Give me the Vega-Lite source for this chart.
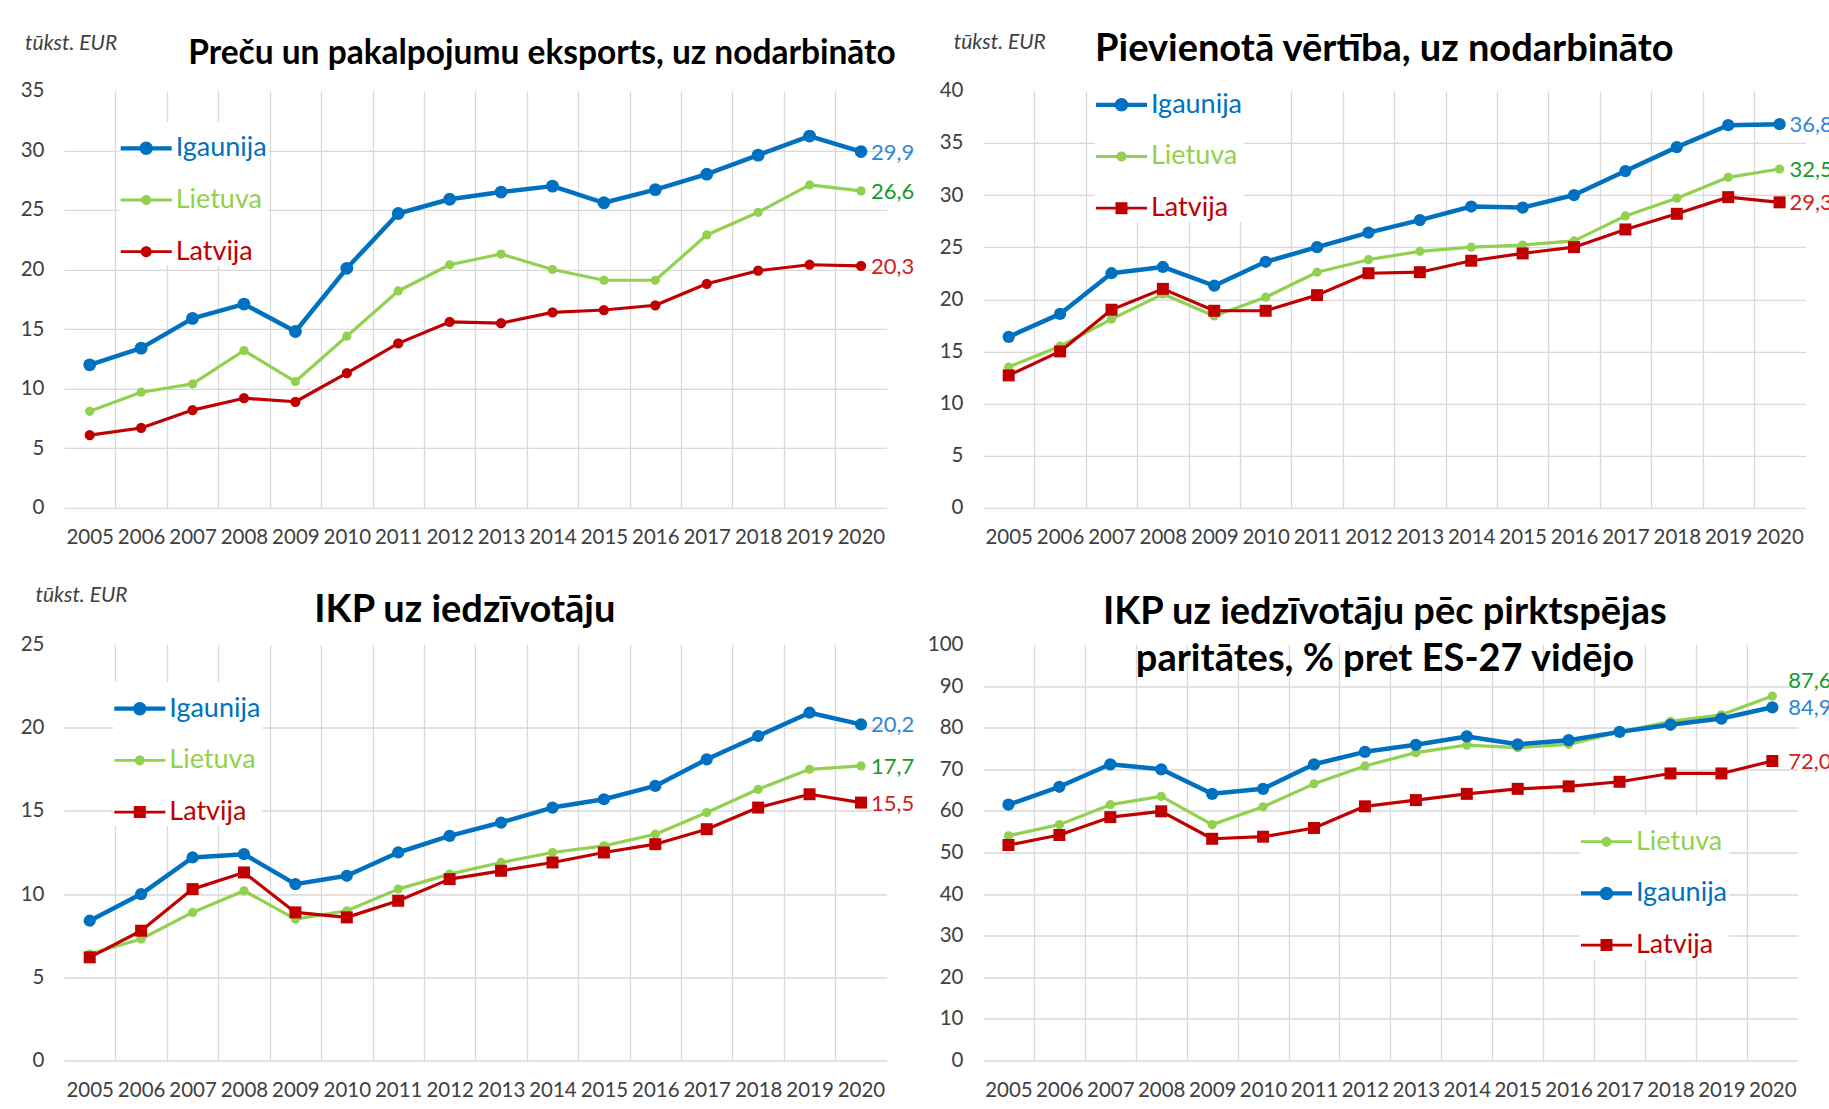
{
"$schema": "https://vega.github.io/schema/vega-lite/v6.json",
"background": "white",
"autosize": {"type": "none"},
"padding": {"left": 64, "top": 90.8, "right": 1765, "bottom": 1018},
"bounds": "flush",
"columns": 2,
"spacing": {"row": 136.7, "column": 96},
"resolve": {
 "scale": {"color": "independent", "fill": "independent"},
 "legend": {"color": "independent", "fill": "independent"}
},
"config": {
 "font": "Lato",
 "view": {"stroke": null},
 "axis": {"labelFont": "Lato", "labelFontSize": 20.5, "labelColor": "#404040", "gridColor": "#d9d9d9", "gridWidth": 1.3, "domain": false, "ticks": false},
 "axisX": {"grid": true, "tickBand": "extent", "labelAngle": 0, "labelAlign": "center", "labelPadding": 20, "labelOverlap": false, "labelBound": false, "labelFlush": false, "title": null,
           "gridColor": {"condition": {"test": "datum.extra || datum.value === 2020", "value": "transparent"}, "value": "#d9d9d9"}},
 "title": {"font": "Lato", "fontSize": 38, "fontWeight": "bold", "color": "#000000", "anchor": "middle", "frame": "group", "baseline": "alphabetic"},
 "legend": {"orient": "none", "title": null, "fillColor": "white", "padding": 1, "symbolSize": 2601, "symbolStrokeWidth": 0, "labelFont": "Lato", "labelFontSize": 27, "labelOffset": 4, "rowPadding": 12.7, "labelLimit": 400, "labelBaseline": "middle"},
 "line": {"strokeJoin": "round", "strokeCap": "round"},
 "point": {"filled": true, "opacity": 1},
 "text": {"font": "Lato", "fontSize": 22, "align": "left", "baseline": "middle"},
 "locale": {"number": {"decimal": ",", "thousands": " ", "grouping": [3], "currency": ["", " €"]}}
},
"datasets": {
"p1": [
{"year":2005,"s":"Igaunija","v":12.0},{"year":2006,"s":"Igaunija","v":13.4},{"year":2007,"s":"Igaunija","v":15.9},{"year":2008,"s":"Igaunija","v":17.1},{"year":2009,"s":"Igaunija","v":14.8},{"year":2010,"s":"Igaunija","v":20.1},{"year":2011,"s":"Igaunija","v":24.7},{"year":2012,"s":"Igaunija","v":25.9},{"year":2013,"s":"Igaunija","v":26.5},{"year":2014,"s":"Igaunija","v":27.0},{"year":2015,"s":"Igaunija","v":25.6},{"year":2016,"s":"Igaunija","v":26.7},{"year":2017,"s":"Igaunija","v":28.0},{"year":2018,"s":"Igaunija","v":29.6},{"year":2019,"s":"Igaunija","v":31.2},{"year":2020,"s":"Igaunija","v":29.9},
{"year":2005,"s":"Lietuva","v":8.1},{"year":2006,"s":"Lietuva","v":9.7},{"year":2007,"s":"Lietuva","v":10.4},{"year":2008,"s":"Lietuva","v":13.2},{"year":2009,"s":"Lietuva","v":10.6},{"year":2010,"s":"Lietuva","v":14.4},{"year":2011,"s":"Lietuva","v":18.2},{"year":2012,"s":"Lietuva","v":20.4},{"year":2013,"s":"Lietuva","v":21.3},{"year":2014,"s":"Lietuva","v":20.0},{"year":2015,"s":"Lietuva","v":19.1},{"year":2016,"s":"Lietuva","v":19.1},{"year":2017,"s":"Lietuva","v":22.9},{"year":2018,"s":"Lietuva","v":24.8},{"year":2019,"s":"Lietuva","v":27.1},{"year":2020,"s":"Lietuva","v":26.6},
{"year":2005,"s":"Latvija","v":6.1},{"year":2006,"s":"Latvija","v":6.7},{"year":2007,"s":"Latvija","v":8.2},{"year":2008,"s":"Latvija","v":9.2},{"year":2009,"s":"Latvija","v":8.9},{"year":2010,"s":"Latvija","v":11.3},{"year":2011,"s":"Latvija","v":13.8},{"year":2012,"s":"Latvija","v":15.6},{"year":2013,"s":"Latvija","v":15.5},{"year":2014,"s":"Latvija","v":16.4},{"year":2015,"s":"Latvija","v":16.6},{"year":2016,"s":"Latvija","v":17.0},{"year":2017,"s":"Latvija","v":18.8},{"year":2018,"s":"Latvija","v":19.9},{"year":2019,"s":"Latvija","v":20.4},{"year":2020,"s":"Latvija","v":20.3}
],
"p2": [
{"year":2005,"s":"Igaunija","v":16.4},{"year":2006,"s":"Igaunija","v":18.6},{"year":2007,"s":"Igaunija","v":22.5},{"year":2008,"s":"Igaunija","v":23.1},{"year":2009,"s":"Igaunija","v":21.3},{"year":2010,"s":"Igaunija","v":23.6},{"year":2011,"s":"Igaunija","v":25.0},{"year":2012,"s":"Igaunija","v":26.4},{"year":2013,"s":"Igaunija","v":27.6},{"year":2014,"s":"Igaunija","v":28.9},{"year":2015,"s":"Igaunija","v":28.8},{"year":2016,"s":"Igaunija","v":30.0},{"year":2017,"s":"Igaunija","v":32.3},{"year":2018,"s":"Igaunija","v":34.6},{"year":2019,"s":"Igaunija","v":36.7},{"year":2020,"s":"Igaunija","v":36.8},
{"year":2005,"s":"Lietuva","v":13.5},{"year":2006,"s":"Lietuva","v":15.5},{"year":2007,"s":"Lietuva","v":18.1},{"year":2008,"s":"Lietuva","v":20.5},{"year":2009,"s":"Lietuva","v":18.4},{"year":2010,"s":"Lietuva","v":20.2},{"year":2011,"s":"Lietuva","v":22.6},{"year":2012,"s":"Lietuva","v":23.8},{"year":2013,"s":"Lietuva","v":24.6},{"year":2014,"s":"Lietuva","v":25.0},{"year":2015,"s":"Lietuva","v":25.2},{"year":2016,"s":"Lietuva","v":25.6},{"year":2017,"s":"Lietuva","v":28.0},{"year":2018,"s":"Lietuva","v":29.7},{"year":2019,"s":"Lietuva","v":31.7},{"year":2020,"s":"Lietuva","v":32.5},
{"year":2005,"s":"Latvija","v":12.7},{"year":2006,"s":"Latvija","v":15.0},{"year":2007,"s":"Latvija","v":19.0},{"year":2008,"s":"Latvija","v":21.0},{"year":2009,"s":"Latvija","v":18.9},{"year":2010,"s":"Latvija","v":18.9},{"year":2011,"s":"Latvija","v":20.4},{"year":2012,"s":"Latvija","v":22.5},{"year":2013,"s":"Latvija","v":22.6},{"year":2014,"s":"Latvija","v":23.7},{"year":2015,"s":"Latvija","v":24.4},{"year":2016,"s":"Latvija","v":25.0},{"year":2017,"s":"Latvija","v":26.7},{"year":2018,"s":"Latvija","v":28.2},{"year":2019,"s":"Latvija","v":29.8},{"year":2020,"s":"Latvija","v":29.3}
],
"p3": [
{"year":2005,"s":"Igaunija","v":8.4},{"year":2006,"s":"Igaunija","v":10.0},{"year":2007,"s":"Igaunija","v":12.2},{"year":2008,"s":"Igaunija","v":12.4},{"year":2009,"s":"Igaunija","v":10.6},{"year":2010,"s":"Igaunija","v":11.1},{"year":2011,"s":"Igaunija","v":12.5},{"year":2012,"s":"Igaunija","v":13.5},{"year":2013,"s":"Igaunija","v":14.3},{"year":2014,"s":"Igaunija","v":15.2},{"year":2015,"s":"Igaunija","v":15.7},{"year":2016,"s":"Igaunija","v":16.5},{"year":2017,"s":"Igaunija","v":18.1},{"year":2018,"s":"Igaunija","v":19.5},{"year":2019,"s":"Igaunija","v":20.9},{"year":2020,"s":"Igaunija","v":20.2},
{"year":2005,"s":"Lietuva","v":6.4},{"year":2006,"s":"Lietuva","v":7.3},{"year":2007,"s":"Lietuva","v":8.9},{"year":2008,"s":"Lietuva","v":10.2},{"year":2009,"s":"Lietuva","v":8.5},{"year":2010,"s":"Lietuva","v":9.0},{"year":2011,"s":"Lietuva","v":10.3},{"year":2012,"s":"Lietuva","v":11.2},{"year":2013,"s":"Lietuva","v":11.9},{"year":2014,"s":"Lietuva","v":12.5},{"year":2015,"s":"Lietuva","v":12.9},{"year":2016,"s":"Lietuva","v":13.6},{"year":2017,"s":"Lietuva","v":14.9},{"year":2018,"s":"Lietuva","v":16.3},{"year":2019,"s":"Lietuva","v":17.5},{"year":2020,"s":"Lietuva","v":17.7},
{"year":2005,"s":"Latvija","v":6.2},{"year":2006,"s":"Latvija","v":7.8},{"year":2007,"s":"Latvija","v":10.3},{"year":2008,"s":"Latvija","v":11.3},{"year":2009,"s":"Latvija","v":8.9},{"year":2010,"s":"Latvija","v":8.6},{"year":2011,"s":"Latvija","v":9.6},{"year":2012,"s":"Latvija","v":10.9},{"year":2013,"s":"Latvija","v":11.4},{"year":2014,"s":"Latvija","v":11.9},{"year":2015,"s":"Latvija","v":12.5},{"year":2016,"s":"Latvija","v":13.0},{"year":2017,"s":"Latvija","v":13.9},{"year":2018,"s":"Latvija","v":15.2},{"year":2019,"s":"Latvija","v":16.0},{"year":2020,"s":"Latvija","v":15.5}
],
"p4": [
{"year":2005,"s":"Lietuva","v":54.0},{"year":2006,"s":"Lietuva","v":56.7},{"year":2007,"s":"Lietuva","v":61.5},{"year":2008,"s":"Lietuva","v":63.5},{"year":2009,"s":"Lietuva","v":56.7},{"year":2010,"s":"Lietuva","v":61.0},{"year":2011,"s":"Lietuva","v":66.5},{"year":2012,"s":"Lietuva","v":70.8},{"year":2013,"s":"Lietuva","v":74.0},{"year":2014,"s":"Lietuva","v":75.8},{"year":2015,"s":"Lietuva","v":75.2},{"year":2016,"s":"Lietuva","v":76.0},{"year":2017,"s":"Lietuva","v":79.0},{"year":2018,"s":"Lietuva","v":81.5},{"year":2019,"s":"Lietuva","v":83.1},{"year":2020,"s":"Lietuva","v":87.6},
{"year":2005,"s":"Igaunija","v":61.5},{"year":2006,"s":"Igaunija","v":65.8},{"year":2007,"s":"Igaunija","v":71.2},{"year":2008,"s":"Igaunija","v":70.0},{"year":2009,"s":"Igaunija","v":64.1},{"year":2010,"s":"Igaunija","v":65.3},{"year":2011,"s":"Igaunija","v":71.2},{"year":2012,"s":"Igaunija","v":74.2},{"year":2013,"s":"Igaunija","v":75.9},{"year":2014,"s":"Igaunija","v":77.9},{"year":2015,"s":"Igaunija","v":76.0},{"year":2016,"s":"Igaunija","v":77.0},{"year":2017,"s":"Igaunija","v":79.0},{"year":2018,"s":"Igaunija","v":80.7},{"year":2019,"s":"Igaunija","v":82.2},{"year":2020,"s":"Igaunija","v":84.9},
{"year":2005,"s":"Latvija","v":51.8},{"year":2006,"s":"Latvija","v":54.2},{"year":2007,"s":"Latvija","v":58.5},{"year":2008,"s":"Latvija","v":59.9},{"year":2009,"s":"Latvija","v":53.3},{"year":2010,"s":"Latvija","v":53.8},{"year":2011,"s":"Latvija","v":55.9},{"year":2012,"s":"Latvija","v":61.1},{"year":2013,"s":"Latvija","v":62.6},{"year":2014,"s":"Latvija","v":64.1},{"year":2015,"s":"Latvija","v":65.3},{"year":2016,"s":"Latvija","v":65.9},{"year":2017,"s":"Latvija","v":67.0},{"year":2018,"s":"Latvija","v":69.0},{"year":2019,"s":"Latvija","v":69.0},{"year":2020,"s":"Latvija","v":72.0}
]
},
"concat": [
{
 "width": 822.7, "height": 417,
 "data": {"name": "p1"},
 "title": {"text": "Preču un pakalpojumu eksports, uz nodarbināto", "fontSize": 33.5, "dx": 66.6, "offset": -38.5},
 "encoding": {
  "x": {"field": "year", "type": "ordinal", "bandPosition": 0.5, "scale": {"type": "band", "paddingInner": 0, "paddingOuter": 0}},
  "y": {"field": "v", "type": "quantitative", "scale": {"domain": [0, 35], "nice": false},
        "axis": {"values": [0,5,10,15,20,25,30,35], "labelPadding": 20, "title": "tūkst. EUR", "titleAngle": 0, "titleAlign": "left", "titleBaseline": "alphabetic", "titleX": -39.4, "titleY": -40.8, "titleFont": "Lato", "titleFontStyle": "italic", "titleFontWeight": "normal", "titleFontSize": 21, "titleColor": "#404040",
                 "gridColor": {"condition": {"test": "datum.value === 35", "value": "transparent"}, "value": "#d9d9d9"}}}
 },
 "layer": [
  {"transform": [{"filter": "false"}], "mark": {"type": "point"},
   "encoding": {
    "color": {"field": "s", "type": "nominal", "scale": {"domain": ["Igaunija", "Lietuva", "Latvija"], "range": ["#0070C0", "#92D050", "#C00000"]},
      "legend": {"legendX": 55.7, "legendY": 31,
        "labelColor": {"expr": "datum.value === 'Igaunija' ? '#0070C0' : datum.value === 'Lietuva' ? '#92D050' : '#C00000'"},
        "symbolType": {"expr": "datum.value === 'Igaunija' ? 'M-1,-0.082L1,-0.082L1,0.082L-1,0.082Z M-0.263,0A0.263,0.263 0 1,1 0.263,0A0.263,0.263 0 1,1 -0.263,0Z' : datum.value === 'Lietuva' ? 'M-1,-0.055L1,-0.055L1,0.055L-1,0.055Z M-0.196,0A0.196,0.196 0 1,1 0.196,0A0.196,0.196 0 1,1 -0.196,0Z' : 'M-1,-0.055L1,-0.055L1,0.055L-1,0.055Z M-0.216,0A0.216,0.216 0 1,1 0.216,0A0.216,0.216 0 1,1 -0.216,0Z'"}}}}},
  {"transform": [{"filter": "datum.s === 'Igaunija'"}], "mark": {"type": "line", "color": "#0070C0", "strokeWidth": 4.5}},
  {"transform": [{"filter": "datum.s === 'Igaunija'"}], "mark": {"type": "point", "color": "#0070C0", "size": 165, "shape": "circle"}},
  {"transform": [{"filter": "datum.s === 'Lietuva'"}], "mark": {"type": "line", "color": "#92D050", "strokeWidth": 3.2}},
  {"transform": [{"filter": "datum.s === 'Lietuva'"}], "mark": {"type": "point", "color": "#92D050", "size": 85, "shape": "circle"}},
  {"transform": [{"filter": "datum.s === 'Latvija'"}], "mark": {"type": "line", "color": "#C00000", "strokeWidth": 3.2}},
  {"transform": [{"filter": "datum.s === 'Latvija'"}], "mark": {"type": "point", "color": "#C00000", "size": 105, "shape": "circle"}},
  {"transform": [{"filter": "datum.year === 2020"}],
   "mark": {"type": "text", "dx": 10, "dy": 1},
   "encoding": {
    "text": {"field": "v", "type": "quantitative", "format": ".1f"},
    "fill": {"field": "s", "type": "nominal", "scale": {"domain": ["Latvija", "Lietuva", "Igaunija"], "range": ["#D41C1C", "#139A2C", "#2E86D6"]}, "legend": null}}}
 ]
},
{
 "width": 822.3, "height": 417,
 "data": {"name": "p2"},
 "title": {"text": "Pievienotā vērtība, uz nodarbināto", "dx": -9.8, "offset": -36.7},
 "encoding": {
  "x": {"field": "year", "type": "ordinal", "bandPosition": 0.5, "scale": {"type": "band", "paddingInner": 0, "paddingOuter": 0}},
  "y": {"field": "v", "type": "quantitative", "scale": {"domain": [0, 40], "nice": false},
        "axis": {"values": [0,5,10,15,20,25,30,35,40], "labelPadding": 20, "title": "tūkst. EUR", "titleAngle": 0, "titleAlign": "left", "titleBaseline": "alphabetic", "titleX": -29.7, "titleY": -41.8, "titleFont": "Lato", "titleFontStyle": "italic", "titleFontWeight": "normal", "titleFontSize": 21, "titleColor": "#404040",
                 "gridColor": {"condition": {"test": "datum.value === 40", "value": "transparent"}, "value": "#d9d9d9"}}}
 },
 "layer": [
  {"transform": [{"filter": "false"}], "mark": {"type": "point"},
   "encoding": {
    "color": {"field": "s", "type": "nominal", "scale": {"domain": ["Igaunija", "Lietuva", "Latvija"], "range": ["#0070C0", "#92D050", "#C00000"]},
      "legend": {"legendX": 112, "legendY": -12.5,
        "labelColor": {"expr": "datum.value === 'Igaunija' ? '#0070C0' : datum.value === 'Lietuva' ? '#92D050' : '#C00000'"},
        "symbolType": {"expr": "datum.value === 'Igaunija' ? 'M-1,-0.082L1,-0.082L1,0.082L-1,0.082Z M-0.263,0A0.263,0.263 0 1,1 0.263,0A0.263,0.263 0 1,1 -0.263,0Z' : datum.value === 'Lietuva' ? 'M-1,-0.055L1,-0.055L1,0.055L-1,0.055Z M-0.196,0A0.196,0.196 0 1,1 0.196,0A0.196,0.196 0 1,1 -0.196,0Z' : 'M-1,-0.055L1,-0.055L1,0.055L-1,0.055Z M-0.235,-0.235L0.235,-0.235L0.235,0.235L-0.235,0.235Z'"}}}}},
  {"transform": [{"filter": "datum.s === 'Igaunija'"}], "mark": {"type": "line", "color": "#0070C0", "strokeWidth": 4.5}},
  {"transform": [{"filter": "datum.s === 'Igaunija'"}], "mark": {"type": "point", "color": "#0070C0", "size": 150, "shape": "circle"}},
  {"transform": [{"filter": "datum.s === 'Lietuva'"}], "mark": {"type": "line", "color": "#92D050", "strokeWidth": 3.2}},
  {"transform": [{"filter": "datum.s === 'Lietuva'"}], "mark": {"type": "point", "color": "#92D050", "size": 85, "shape": "circle"}},
  {"transform": [{"filter": "datum.s === 'Latvija'"}], "mark": {"type": "line", "color": "#C00000", "strokeWidth": 3.2}},
  {"transform": [{"filter": "datum.s === 'Latvija'"}], "mark": {"type": "point", "color": "#C00000", "size": 144, "shape": "square"}},
  {"transform": [{"filter": "datum.year === 2020"}],
   "mark": {"type": "text", "dx": 10, "dy": 1},
   "encoding": {
    "text": {"field": "v", "type": "quantitative", "format": ".1f"},
    "fill": {"field": "s", "type": "nominal", "scale": {"domain": ["Latvija", "Lietuva", "Igaunija"], "range": ["#D41C1C", "#139A2C", "#2E86D6"]}, "legend": null}}}
 ]
},
{
 "width": 822.7, "height": 416,
 "data": {"name": "p3"},
 "title": {"text": "IKP uz iedzīvotāju", "dx": -10.5, "offset": -45},
 "encoding": {
  "x": {"field": "year", "type": "ordinal", "bandPosition": 0.5, "scale": {"type": "band", "paddingInner": 0, "paddingOuter": 0}},
  "y": {"field": "v", "type": "quantitative", "scale": {"domain": [0, 25], "nice": false},
        "axis": {"values": [0,5,10,15,20,25], "labelPadding": 20, "title": "tūkst. EUR", "titleAngle": 0, "titleAlign": "left", "titleBaseline": "alphabetic", "titleX": -29, "titleY": -42.5, "titleFont": "Lato", "titleFontStyle": "italic", "titleFontWeight": "normal", "titleFontSize": 21, "titleColor": "#404040",
                 "gridColor": {"condition": {"test": "datum.value === 25", "value": "transparent"}, "value": "#d9d9d9"}}}
 },
 "layer": [
  {"transform": [{"filter": "false"}], "mark": {"type": "point"},
   "encoding": {
    "color": {"field": "s", "type": "nominal", "scale": {"domain": ["Igaunija", "Lietuva", "Latvija"], "range": ["#0070C0", "#92D050", "#C00000"]},
      "legend": {"legendX": 49.3, "legendY": 37.7,
        "labelColor": {"expr": "datum.value === 'Igaunija' ? '#0070C0' : datum.value === 'Lietuva' ? '#92D050' : '#C00000'"},
        "symbolType": {"expr": "datum.value === 'Igaunija' ? 'M-1,-0.082L1,-0.082L1,0.082L-1,0.082Z M-0.263,0A0.263,0.263 0 1,1 0.263,0A0.263,0.263 0 1,1 -0.263,0Z' : datum.value === 'Lietuva' ? 'M-1,-0.055L1,-0.055L1,0.055L-1,0.055Z M-0.196,0A0.196,0.196 0 1,1 0.196,0A0.196,0.196 0 1,1 -0.196,0Z' : 'M-1,-0.055L1,-0.055L1,0.055L-1,0.055Z M-0.235,-0.235L0.235,-0.235L0.235,0.235L-0.235,0.235Z'"}}}}},
  {"transform": [{"filter": "datum.s === 'Igaunija'"}], "mark": {"type": "line", "color": "#0070C0", "strokeWidth": 4.5}},
  {"transform": [{"filter": "datum.s === 'Igaunija'"}], "mark": {"type": "point", "color": "#0070C0", "size": 150, "shape": "circle"}},
  {"transform": [{"filter": "datum.s === 'Lietuva'"}], "mark": {"type": "line", "color": "#92D050", "strokeWidth": 3.2}},
  {"transform": [{"filter": "datum.s === 'Lietuva'"}], "mark": {"type": "point", "color": "#92D050", "size": 85, "shape": "circle"}},
  {"transform": [{"filter": "datum.s === 'Latvija'"}], "mark": {"type": "line", "color": "#C00000", "strokeWidth": 3.2}},
  {"transform": [{"filter": "datum.s === 'Latvija'"}], "mark": {"type": "point", "color": "#C00000", "size": 144, "shape": "square"}},
  {"transform": [{"filter": "datum.year === 2020"}],
   "mark": {"type": "text", "dx": 10, "dy": 1},
   "encoding": {
    "text": {"field": "v", "type": "quantitative", "format": ".1f"},
    "fill": {"field": "s", "type": "nominal", "scale": {"domain": ["Latvija", "Lietuva", "Igaunija"], "range": ["#D41C1C", "#139A2C", "#2E86D6"]}, "legend": null}}}
 ]
},
{
 "width": 814.8, "height": 416,
 "data": {"name": "p4"},
 "title": {"text": ["IKP uz iedzīvotāju pēc pirktspējas", "paritātes, % pret ES-27 vidējo"], "lineHeight": 47.3, "dx": -5.5, "offset": -45},
 "encoding": {
  "x": {"field": "year", "type": "ordinal", "bandPosition": 0.5, "scale": {"type": "band", "paddingInner": 0, "paddingOuter": 0}},
  "y": {"field": "v", "type": "quantitative", "scale": {"domain": [0, 100], "nice": false},
        "axis": {"values": [0,10,20,30,40,50,60,70,80,90,100], "labelPadding": 20, "title": null,
                 "gridColor": {"condition": {"test": "datum.value === 100", "value": "transparent"}, "value": "#d9d9d9"}}}
 },
 "layer": [
  {"transform": [{"filter": "false"}], "mark": {"type": "point"},
   "encoding": {
    "color": {"field": "s", "type": "nominal", "scale": {"domain": ["Lietuva", "Igaunija", "Latvija"], "range": ["#92D050", "#0070C0", "#C00000"]},
      "legend": {"legendX": 597, "legendY": 170.7,
        "labelColor": {"expr": "datum.value === 'Igaunija' ? '#0070C0' : datum.value === 'Lietuva' ? '#92D050' : '#C00000'"},
        "symbolType": {"expr": "datum.value === 'Igaunija' ? 'M-1,-0.082L1,-0.082L1,0.082L-1,0.082Z M-0.263,0A0.263,0.263 0 1,1 0.263,0A0.263,0.263 0 1,1 -0.263,0Z' : datum.value === 'Lietuva' ? 'M-1,-0.055L1,-0.055L1,0.055L-1,0.055Z M-0.196,0A0.196,0.196 0 1,1 0.196,0A0.196,0.196 0 1,1 -0.196,0Z' : 'M-1,-0.055L1,-0.055L1,0.055L-1,0.055Z M-0.235,-0.235L0.235,-0.235L0.235,0.235L-0.235,0.235Z'"}}}}},
  {"transform": [{"filter": "datum.s === 'Lietuva'"}], "mark": {"type": "line", "color": "#92D050", "strokeWidth": 3.2}},
  {"transform": [{"filter": "datum.s === 'Lietuva'"}], "mark": {"type": "point", "color": "#92D050", "size": 85, "shape": "circle"}},
  {"transform": [{"filter": "datum.s === 'Igaunija'"}], "mark": {"type": "line", "color": "#0070C0", "strokeWidth": 4.5}},
  {"transform": [{"filter": "datum.s === 'Igaunija'"}], "mark": {"type": "point", "color": "#0070C0", "size": 150, "shape": "circle"}},
  {"transform": [{"filter": "datum.s === 'Latvija'"}], "mark": {"type": "line", "color": "#C00000", "strokeWidth": 3.2}},
  {"transform": [{"filter": "datum.s === 'Latvija'"}], "mark": {"type": "point", "color": "#C00000", "size": 144, "shape": "square"}},
  {"transform": [{"filter": "datum.year === 2020 && datum.s !== 'Lietuva'"}],
   "mark": {"type": "text", "dx": 16, "dy": 1},
   "encoding": {
    "text": {"field": "v", "type": "quantitative", "format": ".1f"},
    "fill": {"field": "s", "type": "nominal", "scale": {"domain": ["Latvija", "Igaunija", "Lietuva"], "range": ["#D41C1C", "#2E86D6", "#139A2C"]}, "legend": null}}},
  {"transform": [{"filter": "datum.year === 2020 && datum.s === 'Lietuva'"}],
   "mark": {"type": "text", "dx": 16, "dy": -15},
   "encoding": {
    "text": {"field": "v", "type": "quantitative", "format": ".1f"},
    "fill": {"field": "s", "type": "nominal", "scale": {"domain": ["Latvija", "Igaunija", "Lietuva"], "range": ["#D41C1C", "#2E86D6", "#139A2C"]}, "legend": null}}}
 ]
}
]
}
